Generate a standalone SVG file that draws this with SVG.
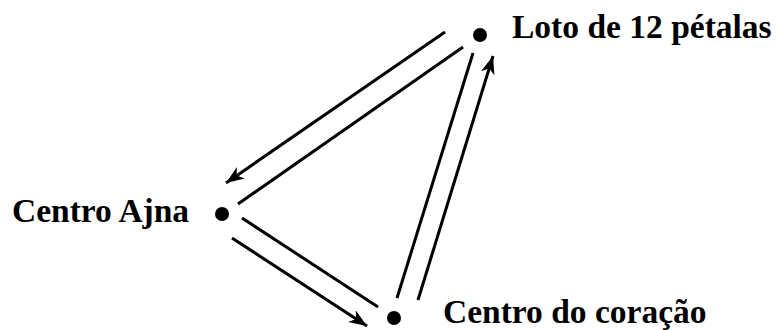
<svg xmlns="http://www.w3.org/2000/svg" width="777" height="330" viewBox="0 0 777 330">
<style>
.lbl{font-family:"Liberation Serif","Times New Roman",serif;font-weight:bold;font-size:33.5px;fill:#000}
.ln{stroke:#000;stroke-width:3;fill:none}
.dot{fill:#000}
</style>
<defs>
<marker id="ah" markerUnits="userSpaceOnUse" markerWidth="20" markerHeight="16" refX="18" refY="7" orient="auto">
<path d="M0,0 L18,7 L0,14 L5,7 z" fill="#000"/>
</marker>
</defs>
<rect width="777" height="330" fill="#fff"/>
<g id="connectors">
<line class="ln" x1="445" y1="32" x2="226" y2="183" marker-end="url(#ah)"/>
<line class="ln" x1="463" y1="47" x2="238" y2="204"/>
<line class="ln" x1="473" y1="53" x2="397" y2="298"/>
<line class="ln" x1="418" y1="300" x2="493" y2="56" marker-end="url(#ah)"/>
<line class="ln" x1="242" y1="218" x2="378" y2="307"/>
<line class="ln" x1="232" y1="238" x2="367" y2="326" marker-end="url(#ah)"/>
</g>
<g id="loto">
<circle class="dot" cx="480" cy="35" r="7"/>
<text class="lbl" x="512" y="38">Loto de 12 pétalas</text>
</g>
<g id="ajna">
<circle class="dot" cx="222" cy="214" r="7"/>
<text class="lbl" x="12" y="222">Centro Ajna</text>
</g>
<g id="coracao">
<circle class="dot" cx="394" cy="318" r="7"/>
<text class="lbl" x="443" y="323">Centro do coração</text>
</g>
</svg>
